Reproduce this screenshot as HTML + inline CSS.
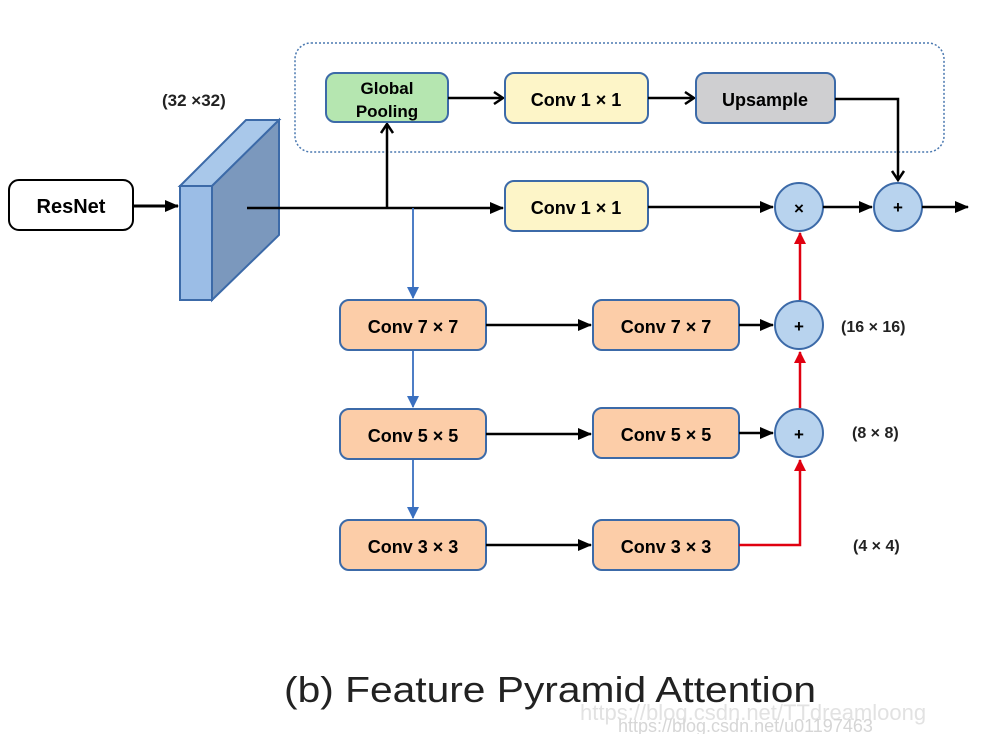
<!DOCTYPE html>
<html><head><meta charset="utf-8"><style>
html,body{margin:0;padding:0;background:#fff;}
svg{display:block;}
text{font-family:"Liberation Sans",sans-serif;}
</style></head><body>
<svg width="1000" height="734" viewBox="0 0 1000 734" xmlns="http://www.w3.org/2000/svg">
<defs>
<marker id="ab" markerWidth="14" markerHeight="12" refX="13" refY="6" orient="auto" markerUnits="userSpaceOnUse"><path d="M0,0 L14,6 L0,12 z" fill="#000"/></marker>
<marker id="ao" markerWidth="12" markerHeight="14" refX="10" refY="7" orient="auto" markerUnits="userSpaceOnUse"><path d="M1,1 L10,7 L1,13" fill="none" stroke="#000" stroke-width="2.5"/></marker>
<marker id="ar" markerWidth="12" markerHeight="12" refX="11" refY="6" orient="auto" markerUnits="userSpaceOnUse"><path d="M0,0 L12,6 L0,12 z" fill="#e00010"/></marker>
<marker id="abl" markerWidth="12" markerHeight="12" refX="11" refY="6" orient="auto" markerUnits="userSpaceOnUse"><path d="M0,0 L12,6 L0,12 z" fill="#3a70c0"/></marker>
</defs>
<rect x="295" y="43" width="649" height="109" rx="16" fill="none" stroke="#4a78b0" stroke-width="1.5" stroke-dasharray="2,2"/>
<polygon points="180,186 246,120 279,120 212,186" fill="#a9c8ea" stroke="#3c6aa8" stroke-width="2"/>
<polygon points="212,186 279,120 279,235 212,300" fill="#7b98bd" stroke="#3c6aa8" stroke-width="2"/>
<rect x="180" y="186" width="32" height="114" fill="#9bbde6" stroke="#3c6aa8" stroke-width="2"/>
<text x="162" y="106" font-size="17" font-weight="bold" fill="#222">(32 ×32)</text>
<rect x="9" y="180" width="124" height="50" rx="10" fill="#fff" stroke="#000" stroke-width="2"/>
<text x="71" y="213" font-size="20" font-weight="bold" text-anchor="middle">ResNet</text>
<line x1="133" y1="206" x2="178" y2="206" stroke="#000" stroke-width="3" marker-end="url(#ab)"/>
<line x1="247" y1="208" x2="503" y2="208" stroke="#000" stroke-width="2.5" marker-end="url(#ab)"/>
<line x1="387" y1="208" x2="387" y2="124" stroke="#000" stroke-width="2.5" marker-end="url(#ao)"/>
<line x1="413" y1="208" x2="413" y2="298" stroke="#3a70c0" stroke-width="1.8" marker-end="url(#abl)"/>
<line x1="413" y1="350" x2="413" y2="407" stroke="#3a70c0" stroke-width="1.8" marker-end="url(#abl)"/>
<line x1="413" y1="459" x2="413" y2="518" stroke="#3a70c0" stroke-width="1.8" marker-end="url(#abl)"/>
<rect x="326" y="73" width="122" height="49" rx="9" fill="#b5e6b0" stroke="#3c6aa8" stroke-width="2"/>
<text x="387" y="94" font-size="17" font-weight="bold" text-anchor="middle">Global</text>
<text x="387" y="117" font-size="17" font-weight="bold" text-anchor="middle">Pooling</text>
<line x1="448" y1="98" x2="503" y2="98" stroke="#000" stroke-width="2.5" marker-end="url(#ao)"/>
<rect x="505" y="73" width="143" height="50" rx="9" fill="#fdf5c8" stroke="#3c6aa8" stroke-width="2"/>
<text x="576" y="106" font-size="18" font-weight="bold" text-anchor="middle">Conv 1 × 1</text>
<line x1="648" y1="98" x2="694" y2="98" stroke="#000" stroke-width="2.5" marker-end="url(#ao)"/>
<rect x="696" y="73" width="139" height="50" rx="9" fill="#cfcfd1" stroke="#3c6aa8" stroke-width="2"/>
<text x="765" y="106" font-size="18" font-weight="bold" text-anchor="middle">Upsample</text>
<polyline points="835,99 898,99 898,180" fill="none" stroke="#000" stroke-width="2.5" marker-end="url(#ao)"/>
<rect x="505" y="181" width="143" height="50" rx="9" fill="#fdf5c8" stroke="#3c6aa8" stroke-width="2"/>
<text x="576" y="214" font-size="18" font-weight="bold" text-anchor="middle">Conv 1 × 1</text>
<line x1="648" y1="207" x2="773" y2="207" stroke="#000" stroke-width="2.5" marker-end="url(#ab)"/>
<circle cx="799" cy="207" r="24" fill="#b8d3ee" stroke="#3c6aa8" stroke-width="2"/>
<text x="799" y="214" font-size="17" font-weight="bold" text-anchor="middle">×</text>
<line x1="823" y1="207" x2="872" y2="207" stroke="#000" stroke-width="2.5" marker-end="url(#ab)"/>
<circle cx="898" cy="207" r="24" fill="#b8d3ee" stroke="#3c6aa8" stroke-width="2"/>
<text x="898" y="213" font-size="17" font-weight="bold" text-anchor="middle">+</text>
<line x1="922" y1="207" x2="968" y2="207" stroke="#000" stroke-width="2.5" marker-end="url(#ab)"/>
<g font-size="18" font-weight="bold" text-anchor="middle">
<rect x="340" y="300" width="146" height="50" rx="9" fill="#fccda8" stroke="#3c6aa8" stroke-width="2"/>
<text x="413" y="333">Conv 7 × 7</text>
<rect x="340" y="409" width="146" height="50" rx="9" fill="#fccda8" stroke="#3c6aa8" stroke-width="2"/>
<text x="413" y="442">Conv 5 × 5</text>
<rect x="340" y="520" width="146" height="50" rx="9" fill="#fccda8" stroke="#3c6aa8" stroke-width="2"/>
<text x="413" y="553">Conv 3 × 3</text>
<rect x="593" y="300" width="146" height="50" rx="9" fill="#fccda8" stroke="#3c6aa8" stroke-width="2"/>
<text x="666" y="333">Conv 7 × 7</text>
<rect x="593" y="408" width="146" height="50" rx="9" fill="#fccda8" stroke="#3c6aa8" stroke-width="2"/>
<text x="666" y="441">Conv 5 × 5</text>
<rect x="593" y="520" width="146" height="50" rx="9" fill="#fccda8" stroke="#3c6aa8" stroke-width="2"/>
<text x="666" y="553">Conv 3 × 3</text>
</g>
<line x1="486" y1="325" x2="591" y2="325" stroke="#000" stroke-width="2.5" marker-end="url(#ab)"/>
<line x1="486" y1="434" x2="591" y2="434" stroke="#000" stroke-width="2.5" marker-end="url(#ab)"/>
<line x1="486" y1="545" x2="591" y2="545" stroke="#000" stroke-width="2.5" marker-end="url(#ab)"/>
<line x1="739" y1="325" x2="773" y2="325" stroke="#000" stroke-width="2.5" marker-end="url(#ab)"/>
<line x1="739" y1="433" x2="773" y2="433" stroke="#000" stroke-width="2.5" marker-end="url(#ab)"/>
<polyline points="739,545 800,545 800,460" fill="none" stroke="#e00010" stroke-width="2.5" marker-end="url(#ar)"/>
<line x1="800" y1="408" x2="800" y2="352" stroke="#e00010" stroke-width="2.5" marker-end="url(#ar)"/>
<line x1="800" y1="300" x2="800" y2="233" stroke="#e00010" stroke-width="2.5" marker-end="url(#ar)"/>
<circle cx="799" cy="325" r="24" fill="#b8d3ee" stroke="#3c6aa8" stroke-width="2"/>
<text x="799" y="332" font-size="17" font-weight="bold" text-anchor="middle">+</text>
<circle cx="799" cy="433" r="24" fill="#b8d3ee" stroke="#3c6aa8" stroke-width="2"/>
<text x="799" y="440" font-size="17" font-weight="bold" text-anchor="middle">+</text>
<g font-size="16" font-weight="bold" fill="#222">
<text x="841" y="332">(16 × 16)</text>
<text x="852" y="438">(8 × 8)</text>
<text x="853" y="551">(4 × 4)</text>
</g>
<text x="284" y="702" font-size="36" fill="#222" textLength="532" lengthAdjust="spacingAndGlyphs">(b) Feature Pyramid Attention</text>
<text x="580" y="720" font-size="22" fill="#e2e2e2">https://blog.csdn.net/TTdreamloong</text>
<text x="618" y="732" font-size="18" fill="#d6d6d6" font-family="Liberation Serif,serif">https://blog.csdn.net/u01197463</text>
</svg>
</body></html>
